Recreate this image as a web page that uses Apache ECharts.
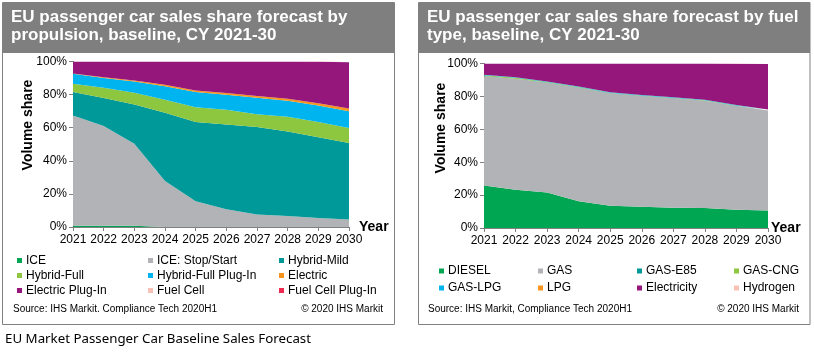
<!DOCTYPE html>
<html><head><meta charset="utf-8">
<script src="https://cdn.jsdelivr.net/npm/echarts@6/dist/echarts.min.js"></script>
<style>html,body{margin:0;padding:0;background:#fff}#c{width:814px;height:355px}</style>
</head><body><div id="c"></div>
<script>
const years = ['2021','2022','2023','2024','2025','2026','2027','2028','2029','2030'];
// Left: propulsion shares (%)
const ice          = [0.8, 0.8, 0.8, 0, 0, 0, 0, 0, 0, 0];
const iceStop      = [66.6, 60.2, 49.5, 27.8, 15.5, 10.7, 7.6, 6.6, 5.4, 4.6];
const hybridMild   = [14.1, 16.9, 23.7, 41.2, 47.9, 51.3, 52.8, 51.1, 48.9, 46.1];
const hybridFull   = [5.0, 6.2, 7.1, 7.9, 9.0, 8.8, 7.8, 8.9, 9.1, 9.1];
const hybridFullPI = [6.1, 6.0, 6.8, 8.2, 9.1, 9.1, 9.9, 9.7, 10.0, 10.2];
const electric     = [0.2, 0.4, 0.6, 0.8, 1.0, 1.0, 1.1, 1.2, 1.4, 1.6];
const electricPI   = [7.2, 9.5, 11.5, 14.1, 17.5, 19.1, 20.8, 22.5, 25.0, 27.9];
const fuelCell     = [0, 0, 0, 0, 0, 0, 0, 0, 0.1, 0.2];
const fuelCellPI   = [0, 0, 0, 0, 0, 0, 0, 0, 0.1, 0.3];
// Right: fuel type shares (%)
const diesel       = [25.9, 23.2, 21.6, 16.2, 13.5, 12.9, 12.3, 12.1, 11.1, 10.7];
const gas          = [66.4, 67.5, 66.7, 69.1, 68.4, 67.4, 66.6, 65.2, 63.1, 60.8];
const gasE85       = [0.1, 0.1, 0.1, 0.1, 0.1, 0.1, 0.1, 0.1, 0.1, 0.1];
const gasCNG       = [0.5, 0.5, 0.4, 0.3, 0.2, 0.2, 0.2, 0.2, 0.2, 0.1];
const gasLPG       = [0.3, 0.3, 0.3, 0.3, 0.3, 0.3, 0.3, 0.3, 0.3, 0.3];
const lpg          = [0, 0, 0, 0, 0, 0, 0, 0, 0, 0];
const electricity  = [6.8, 8.4, 10.9, 14.0, 17.5, 19.1, 20.5, 22.1, 25.1, 27.7];
const hydrogen     = [0, 0, 0, 0, 0, 0, 0, 0, 0.1, 0.3];
const yTicks = [0, 20, 40, 60, 80, 100];

const FONT = 'Arial, "Liberation Sans", sans-serif';
const C = {green:'#00a651', gray:'#b1b3b6', teal:'#00999a', lgreen:'#8dc63f', cyan:'#00b5ef',
  orange:'#f7941d', purple:'#96177c', pink:'#f9c0b6', red:'#ee2a51'};

const left = [
  ['ICE', ice, C.green], ['ICE: Stop/Start', iceStop, C.gray], ['Hybrid-Mild', hybridMild, C.teal],
  ['Hybrid-Full', hybridFull, C.lgreen], ['Hybrid-Full Plug-In', hybridFullPI, C.cyan], ['Electric', electric, C.orange],
  ['Electric Plug-In', electricPI, C.purple], ['Fuel Cell', fuelCell, C.pink], ['Fuel Cell Plug-In', fuelCellPI, C.red]
];
const right = [
  ['DIESEL', diesel, C.green], ['GAS', gas, C.gray], ['GAS-E85', gasE85, C.teal], ['GAS-CNG', gasCNG, C.lgreen],
  ['GAS-LPG', gasLPG, C.cyan], ['LPG', lpg, C.orange], ['Electricity', electricity, C.purple], ['Hydrogen', hydrogen, C.pink]
];

function mkSeries(list, idx, stack) {
  return list.map(([name, data, color]) => ({
    name, type: 'line', stack, data, xAxisIndex: idx, yAxisIndex: idx,
    symbol: 'none', smooth: false, color,
    lineStyle: {width: 0}, areaStyle: {color, opacity: 1}, emphasis: {disabled: true}, animation: false
  }));
}

function xAx(idx, gap) {
  return {
    type: 'category', gridIndex: idx, data: years, boundaryGap: false,
    name: 'Year', nameLocation: 'end', nameGap: gap,
    nameTextStyle: {fontFamily: FONT, fontWeight: 'bold', fontSize: 14, color: '#000', verticalAlign: 'middle'},
    axisLine: {lineStyle: {color: '#808080', width: 1}},
    axisTick: {show: true, length: 4, alignWithLabel: true, lineStyle: {color: '#808080'}},
    axisLabel: {fontFamily: FONT, fontSize: 12, color: '#000', margin: 7, interval: 0},
    splitLine: {show: false}
  };
}
function yAx(idx) {
  return {
    type: 'value', gridIndex: idx, min: yTicks[0], max: yTicks[yTicks.length - 1], interval: 20,
    axisLine: {show: true, lineStyle: {color: '#808080'}},
    axisTick: {show: true, length: 4, lineStyle: {color: '#808080'}},
    axisLabel: {fontFamily: FONT, fontSize: 12, color: '#000', margin: 6, formatter: '{value}%'},
    splitLine: {show: false}
  };
}
function legendCol(data, x, y, lh) {
  return {
    data, left: x, top: y, orient: 'vertical', padding: 0, itemGap: 0,
    icon: 'rect', itemWidth: 5, itemHeight: 5, selectedMode: false,
    textStyle: {fontFamily: FONT, fontSize: 12, color: '#000', lineHeight: lh, padding: [0, 0, 0, -1]}
  };
}
const titleStyle = {fontFamily: FONT, fontWeight: 'bold', fontSize: 17, color: '#fff', lineHeight: 18};
const srcStyle = {fontFamily: FONT, fontSize: 10, fill: '#000'};
const yNameStyle = {text: 'Volume share', align: 'center', verticalAlign: 'middle', fontFamily: FONT, fontWeight: 'bold', fontSize: 14, fill: '#000'};

const chart = echarts.init(document.getElementById('c'), null, {renderer: 'canvas'});
chart.setOption({
  animation: false,
  backgroundColor: '#fff',
  title: [
    {text: 'EU passenger car sales share forecast by\npropulsion, baseline, CY 2021-30', left: 11, top: 8, padding: 0, textStyle: titleStyle},
    {text: 'EU passenger car sales share forecast by fuel\ntype, baseline, CY 2021-30', left: 427, top: 8, padding: 0, textStyle: titleStyle}
  ],
  grid: [
    {left: 73, right: 814 - 349, top: 61.5, bottom: 355 - 227, containLabel: false},
    {left: 484, right: 814 - 768, top: 63.5, bottom: 355 - 228, containLabel: false}
  ],
  xAxis: [xAx(0, 10), xAx(1, 3)],
  yAxis: [yAx(0), yAx(1)],
  legend: [
    legendCol(['ICE', 'Hybrid-Full', 'Electric Plug-In'], 17, 253, 15),
    legendCol(['ICE: Stop/Start', 'Hybrid-Full Plug-In', 'Fuel Cell'], 148, 253, 15),
    legendCol(['Hybrid-Mild', 'Electric', 'Fuel Cell Plug-In'], 279, 253, 15),
    legendCol(['DIESEL', 'GAS-LPG'], 439, 262.5, 17),
    legendCol(['GAS', 'LPG'], 538, 262.5, 17),
    legendCol(['GAS-E85', 'Electricity'], 637, 262.5, 17),
    legendCol(['GAS-CNG', 'Hydrogen'], 734, 262.5, 17)
  ],
  graphic: [
    {type: 'rect', z: -10, shape: {x: 2.5, y: 2.5, width: 392, height: 322}, style: {fill: '#fff', stroke: '#808080', lineWidth: 1}},
    {type: 'rect', z: -9, shape: {x: 3, y: 3, width: 391.5, height: 50}, style: {fill: '#7f7f7f'}},
    {type: 'rect', z: -10, shape: {x: 418.5, y: 2.5, width: 391.5, height: 322}, style: {fill: '#fff', stroke: '#808080', lineWidth: 1}},
    {type: 'rect', z: -9, shape: {x: 419, y: 3, width: 391, height: 50}, style: {fill: '#7f7f7f'}},
    {type: 'text', x: 28, y: 125, rotation: Math.PI / 2, style: yNameStyle},
    {type: 'text', x: 441, y: 128, rotation: Math.PI / 2, style: yNameStyle},
    {type: 'text', x: 13, y: 309, style: Object.assign({text: 'Source: IHS Markit. Compliance Tech 2020H1', verticalAlign: 'middle'}, srcStyle)},
    {type: 'text', x: 383, y: 309, style: Object.assign({text: '© 2020 IHS Markit', align: 'right', verticalAlign: 'middle'}, srcStyle)},
    {type: 'text', x: 428, y: 309, style: Object.assign({text: 'Source: IHS Markit, Compliance Tech 2020H1', verticalAlign: 'middle'}, srcStyle)},
    {type: 'text', x: 799, y: 309, style: Object.assign({text: '© 2020 IHS Markit', align: 'right', verticalAlign: 'middle'}, srcStyle)},
    {type: 'text', x: 5, y: 339, style: {text: 'EU Market Passenger Car Baseline Sales Forecast', verticalAlign: 'middle', fontFamily: '"Noto Sans", "Open Sans", sans-serif', fontSize: 13.3, fill: '#000'}}
  ],
  series: [...mkSeries(left, 0, 'L'), ...mkSeries(right, 1, 'R')]
});
</script></body></html>
